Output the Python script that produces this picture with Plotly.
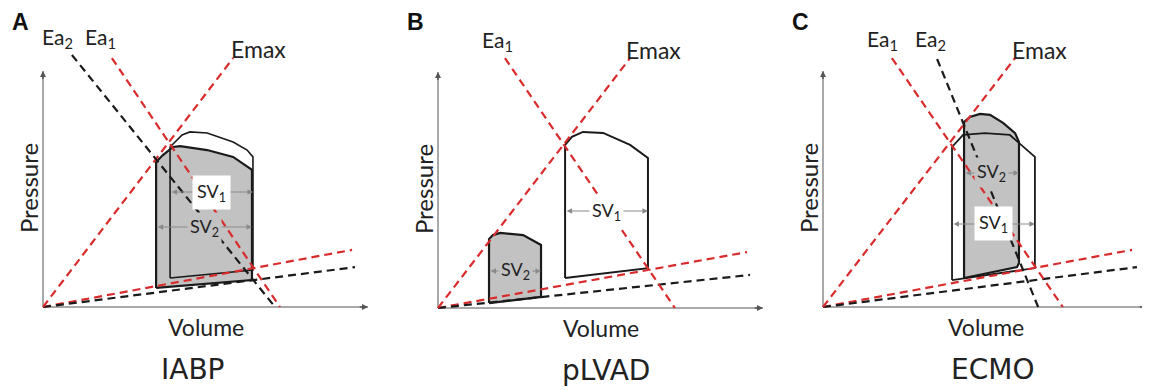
import plotly.graph_objects as go

# ---------------- data (volume / pressure, arbitrary units 0-100) ----------------
panel_keys = ["A", "B", "C"]
panel_titles = ["IABP", "pLVAD", "ECMO"]

# IABP
iabp_emax_v = [0, 58.5];   iabp_emax_p = [0, 105.5]
iabp_ea1_v = [21.2, 72.9]; iabp_ea1_p = [105.5, 0]
iabp_ea2_v = [8.9, 71.4];  iabp_ea2_p = [106.8, 0]
iabp_edpvr1_v = [0, 95.1]; iabp_edpvr1_p = [0, 24.2]
iabp_edpvr2_v = [0, 96.0]; iabp_edpvr2_p = [0, 16.9]
iabp_loop1_v = [39.1, 39.1, 42.8, 45.2, 50.5, 58.5, 62.8, 64.6, 64.6, 39.1]
iabp_loop1_p = [12.3, 67.8, 72.9, 74.2, 73.7, 69.9, 66.5, 63.6, 15.7, 12.3]
iabp_loop2_v = [34.8, 34.8, 36.9, 40.0, 42.2, 50.5, 58.5, 63.1, 64.3, 64.3, 34.8]
iabp_loop2_p = [8.1, 61.4, 64.4, 67.8, 68.2, 66.5, 63.6, 59.3, 58.1, 11.4, 8.1]
iabp_sv1 = [39.1, 64.6, 48.7]   # from, to, pressure level
iabp_sv2 = [34.8, 64.3, 33.9]

# pLVAD
plvad_emax_v = [0, 59.1];   plvad_emax_p = [0, 105.9]
plvad_ea1_v = [20.6, 72.9]; plvad_ea1_p = [105.9, 0]
plvad_edpvr1_v = [0, 95.1]; plvad_edpvr1_p = [0, 23.7]
plvad_edpvr2_v = [0, 96.0]; plvad_edpvr2_p = [0, 14.0]
plvad_loop1_v = [39.1, 39.1, 41.2, 44.6, 50.8, 59.1, 64.6, 64.6, 39.1]
plvad_loop1_p = [12.7, 69.1, 72.5, 74.6, 74.2, 69.1, 63.6, 16.9, 12.7]
plvad_loop2_v = [15.7, 15.7, 16.9, 19.1, 26.2, 31.7, 31.7, 15.7]
plvad_loop2_p = [2.1, 29.2, 30.9, 31.8, 30.9, 26.7, 4.7, 2.1]
plvad_sv1 = [39.1, 64.6, 41.1]
plvad_sv2 = [15.7, 31.7, 15.7]

# ECMO
ecmo_emax_v = [0, 59.1];   ecmo_emax_p = [0, 105.5]
ecmo_ea1_v = [21.2, 73.8]; ecmo_ea1_p = [105.5, 0]
ecmo_ea2_v = [35.1, 66.2]; ecmo_ea2_p = [105.1, 0]
ecmo_edpvr1_v = [0, 95.1]; ecmo_edpvr1_p = [0, 24.2]
ecmo_edpvr2_v = [0, 96.6]; ecmo_edpvr2_p = [0, 16.9]
ecmo_loop1_v = [39.7, 39.7, 43.1, 49.8, 57.5, 65.2, 65.2, 39.7]
ecmo_loop1_p = [11.4, 67.8, 72.9, 73.7, 72.9, 63.6, 16.5, 11.4]
ecmo_loop2_v = [43.4, 43.4, 45.2, 48.3, 51.4, 55.4, 59.1, 60.3, 60.3, 59.7, 43.4]
ecmo_loop2_p = [12.3, 78.4, 80.5, 81.8, 81.4, 78.0, 73.7, 69.9, 18.6, 16.9, 12.3]
ecmo_sv1 = [39.7, 65.2, 35.2]
ecmo_sv2 = [43.4, 60.3, 56.8]

# ---------------- layout geometry (pixels) ----------------
OFF = 8                      # page body margin
W, H = 1150 - OFF, 391 - OFF
PXV, PXP = 3.25, 2.36
origin_px = {"A": (43, 307), "B": (438, 308), "C": (823, 307)}
domain_px = {"A": (0, 385), "B": (385, 770), "C": (770, 1150)}

RED = "#d92b2b"
BLK = "#1a1a1a"
AXC = "#8c8c8c"
GRAY = "#c2c2c2"
DASH = "8px,5px"
LBL_FONT = "Lato"

fig = go.Figure()
annotations = []


def axref(k):
    i = panel_keys.index(k)
    return ("x" if i == 0 else f"x{i+1}"), ("y" if i == 0 else f"y{i+1}")


def line(k, v, p, color, width=2.2, dash=None, fill=None, fillcolor=None):
    xa, ya = axref(k)
    fig.add_trace(go.Scatter(
        x=v, y=p, mode="lines", xaxis=xa, yaxis=ya,
        line=dict(color=color, width=width, dash=dash),
        fill=fill, fillcolor=fillcolor, hoverinfo="skip", showlegend=False))


def text(k, x, y, s, size=21, angle=0, bg=None, family=LBL_FONT, color="#222", pad=1):
    xa, ya = axref(k)
    annotations.append(dict(x=x, y=y, xref=xa, yref=ya, text=s, showarrow=False,
                            textangle=angle, font=dict(family=family, size=size, color=color),
                            bgcolor=bg, borderpad=pad))


def sv_arrow(k, sv, label, bg, box=False):
    xa, ya = axref(k)
    annotations.append(dict(x=sv[1], y=sv[2], ax=sv[0], ay=sv[2], xref=xa, yref=ya,
                            axref=xa, ayref=ya, text="", showarrow=True,
                            arrowhead=2, startarrowhead=2, arrowside="end+start",
                            arrowsize=1.0, startarrowsize=1.0, arrowwidth=1.1,
                            arrowcolor="#8a8a8a", standoff=0, startstandoff=0))
    mid = (sv[0] + sv[1]) / 2
    text(k, mid, sv[2], label, size=18, bg=bg, pad=4 if box else 2)


def axes(k):
    xa, ya = axref(k)
    line(k, [0, 100], [0, 0], AXC, width=1.5)
    line(k, [0, 0], [0, 100], AXC, width=1.5)
    for (x, y, ax, ay) in [(100, 0, 97, 0), (0, 100, 0, 96)]:
        annotations.append(dict(x=x, y=y, ax=ax, ay=ay, xref=xa, yref=ya, axref=xa, ayref=ya,
                                text="", showarrow=True, arrowhead=2, arrowsize=0.8,
                                arrowwidth=1.5, arrowcolor="#555", standoff=0))


# ---------- Panel A : IABP ----------
k = "A"
axes(k)
line(k, iabp_loop2_v, iabp_loop2_p, GRAY, width=0, fill="toself", fillcolor=GRAY)
line(k, iabp_loop1_v, iabp_loop1_p, BLK, width=1.6)
line(k, iabp_loop2_v, iabp_loop2_p, BLK, width=2.2)
line(k, iabp_edpvr1_v, iabp_edpvr1_p, RED, dash=DASH)
line(k, iabp_edpvr2_v, iabp_edpvr2_p, BLK, dash=DASH)
line(k, iabp_emax_v, iabp_emax_p, RED, dash=DASH)
line(k, iabp_ea2_v, iabp_ea2_p, BLK, dash=DASH)
line(k, iabp_ea1_v, iabp_ea1_p, RED, dash=DASH)
sv_arrow(k, iabp_sv1, "SV<sub>1</sub>", "white", box=True)
sv_arrow(k, iabp_sv2, "SV<sub>2</sub>", GRAY)
text(k, 4.6, 114.0, "Ea<sub>2</sub>")
text(k, 17.8, 114.0, "Ea<sub>1</sub>")
text(k, 66.2, 109.3, "Emax", size=23)

# ---------- Panel B : pLVAD ----------
k = "B"
axes(k)
line(k, plvad_loop2_v, plvad_loop2_p, GRAY, width=0, fill="toself", fillcolor=GRAY)
line(k, plvad_loop1_v, plvad_loop1_p, BLK, width=2.0)
line(k, plvad_loop2_v, plvad_loop2_p, BLK, width=2.2)
line(k, plvad_edpvr1_v, plvad_edpvr1_p, RED, dash=DASH)
line(k, plvad_edpvr2_v, plvad_edpvr2_p, BLK, dash=DASH)
line(k, plvad_emax_v, plvad_emax_p, RED, dash=DASH)
line(k, plvad_ea1_v, plvad_ea1_p, RED, dash=DASH)
sv_arrow(k, plvad_sv1, "SV<sub>1</sub>", "white")
sv_arrow(k, plvad_sv2, "SV<sub>2</sub>", GRAY)
text(k, 18.2, 113.0, "Ea<sub>1</sub>")
text(k, 66.2, 109.3, "Emax", size=23)

# ---------- Panel C : ECMO ----------
k = "C"
axes(k)
line(k, ecmo_loop2_v, ecmo_loop2_p, GRAY, width=0, fill="toself", fillcolor=GRAY)
line(k, ecmo_loop1_v, ecmo_loop1_p, BLK, width=1.8)
line(k, ecmo_loop2_v, ecmo_loop2_p, BLK, width=2.2)
line(k, ecmo_edpvr1_v, ecmo_edpvr1_p, RED, dash=DASH)
line(k, ecmo_edpvr2_v, ecmo_edpvr2_p, BLK, dash=DASH)
line(k, ecmo_emax_v, ecmo_emax_p, RED, dash=DASH)
line(k, ecmo_ea1_v, ecmo_ea1_p, RED, dash=DASH)
line(k, ecmo_ea2_v, ecmo_ea2_p, BLK, dash=DASH)
sv_arrow(k, ecmo_sv2, "SV<sub>2</sub>", GRAY)
sv_arrow(k, ecmo_sv1, "SV<sub>1</sub>", "white", box=True)
text(k, 18.2, 113.0, "Ea<sub>1</sub>")
text(k, 33.0, 113.0, "Ea<sub>2</sub>")
text(k, 66.5, 109.0, "Emax", size=23)

# common labels
title_x = {"A": 46.0, "B": 51.7, "C": 52.0}
for k, t in zip(panel_keys, panel_titles):
    text(k, -4.6, 50.4, "Pressure", size=24, angle=-90)
    text(k, 50.0, -8.3, "Volume", size=23)
    text(k, title_x[k], -26.5, t, size=28, family="DejaVu Sans", color="#222")
    xa, _ = axref(k)
    annotations.append(dict(x=-7.0, y=1.0, xref=xa, yref="paper", yanchor="top",
                            text=f"<b>{k}</b>", showarrow=False, borderpad=0,
                            font=dict(family="Liberation Sans", size=23, color="#111")))

layout = dict(width=W, height=H, margin=dict(l=0, r=0, t=0, b=0),
              paper_bgcolor="white", plot_bgcolor="white", showlegend=False,
              annotations=annotations)
for i, k in enumerate(panel_keys):
    ox, oy = origin_px[k][0] - OFF, origin_px[k][1] - OFF
    d0, d1 = max(domain_px[k][0] - OFF, 0), min(domain_px[k][1] - OFF, W)
    xr = [(d0 - ox) / PXV, (d1 - ox) / PXV]
    yr = [(oy - H) / PXP, oy / PXP]
    xn = "xaxis" if i == 0 else f"xaxis{i+1}"
    yn = "yaxis" if i == 0 else f"yaxis{i+1}"
    xa, ya = axref(k)
    layout[xn] = dict(domain=[d0 / W, d1 / W], range=xr, visible=False, anchor=ya, fixedrange=True)
    layout[yn] = dict(domain=[0, 1], range=yr, visible=False, anchor=xa, fixedrange=True)

fig.update_layout(**layout)
fig.write_html("out.html")
